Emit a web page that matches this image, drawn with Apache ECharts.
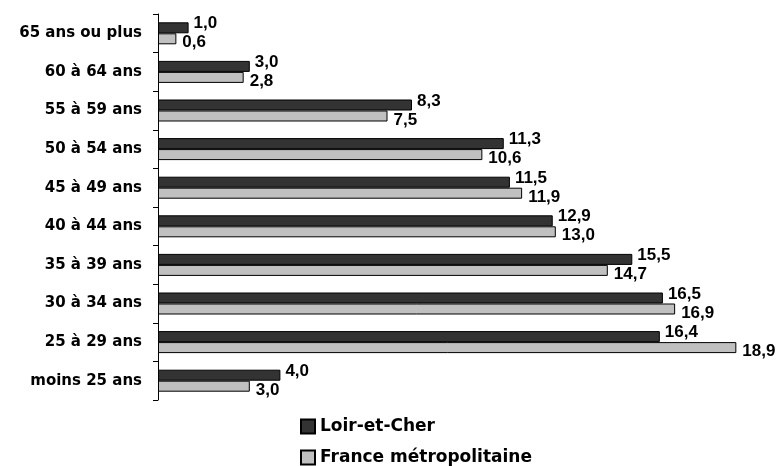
<!DOCTYPE html>
<html>
<head>
<meta charset="utf-8">
<script src="https://cdn.jsdelivr.net/npm/echarts@6/dist/echarts.min.js"></script>
<style>
html,body{margin:0;padding:0;background:#fff;}
#chart{width:779px;height:466px;}
</style>
</head>
<body>
<div id="chart"></div>
<script>
var categories = ['moins 25 ans','25 à 29 ans','30 à 34 ans','35 à 39 ans','40 à 44 ans','45 à 49 ans','50 à 54 ans','55 à 59 ans','60 à 64 ans','65 ans ou plus'];
var loirEtCher = [4.0, 16.4, 16.5, 15.5, 12.9, 11.5, 11.3, 8.3, 3.0, 1.0];
var franceMetro = [3.0, 18.9, 16.9, 14.7, 13.0, 11.9, 10.6, 7.5, 2.8, 0.6];
var seriesNames = ['Loir-et-Cher', 'France métropolitaine'];

function fmt(p){ return p.value.toFixed(1).replace('.', ','); }

var legendText = {fontFamily: 'DejaVu Sans', fontWeight: 'bold', fontSize: 17, color: '#000'};
var valueLabel = {fontFamily: 'Liberation Sans', fontWeight: 'bold', fontSize: 17, color: '#000'};

var chart = echarts.init(document.getElementById('chart'));
chart.setOption({
  animation: false,
  backgroundColor: '#ffffff',
  grid: {left: 158, right: 9, top: 14, bottom: 66, containLabel: false},
  legend: [
    {left: 300, top: 418, padding: 0, itemWidth: 14, itemHeight: 14, itemGap: 5, icon: 'rect',
     textStyle: legendText, data: [seriesNames[0]]},
    {left: 300, top: 449, padding: 0, itemWidth: 14, itemHeight: 14, itemGap: 5, icon: 'rect',
     textStyle: legendText, data: [seriesNames[1]]}
  ],
  xAxis: {type: 'value', min: 0, max: 20, show: false},
  yAxis: {
    type: 'category',
    data: categories,
    axisLine: {show: true, lineStyle: {color: '#000', width: 1}},
    axisTick: {show: true, inside: false, length: 5, lineStyle: {color: '#000'}},
    axisLabel: {fontFamily: 'DejaVu Sans', fontWeight: 'bold', fontSize: 15, color: '#000', margin: 16},
    splitLine: {show: false}
  },
  series: [
    {
      name: seriesNames[0], type: 'bar', data: loirEtCher,
      barWidth: 11, barGap: '0%',
      itemStyle: {color: '#333333', borderColor: '#000', borderWidth: 1},
      label: Object.assign({show: true, position: 'right', distance: 5, offset: [0, -4], formatter: fmt}, valueLabel)
    },
    {
      name: seriesNames[1], type: 'bar', data: franceMetro,
      barWidth: 11, barGap: '0%',
      itemStyle: {color: '#c0c0c0', borderColor: '#000', borderWidth: 1},
      label: Object.assign({show: true, position: 'right', distance: 6, offset: [0, 4], formatter: fmt}, valueLabel)
    }
  ]
});
</script>
</body>
</html>
